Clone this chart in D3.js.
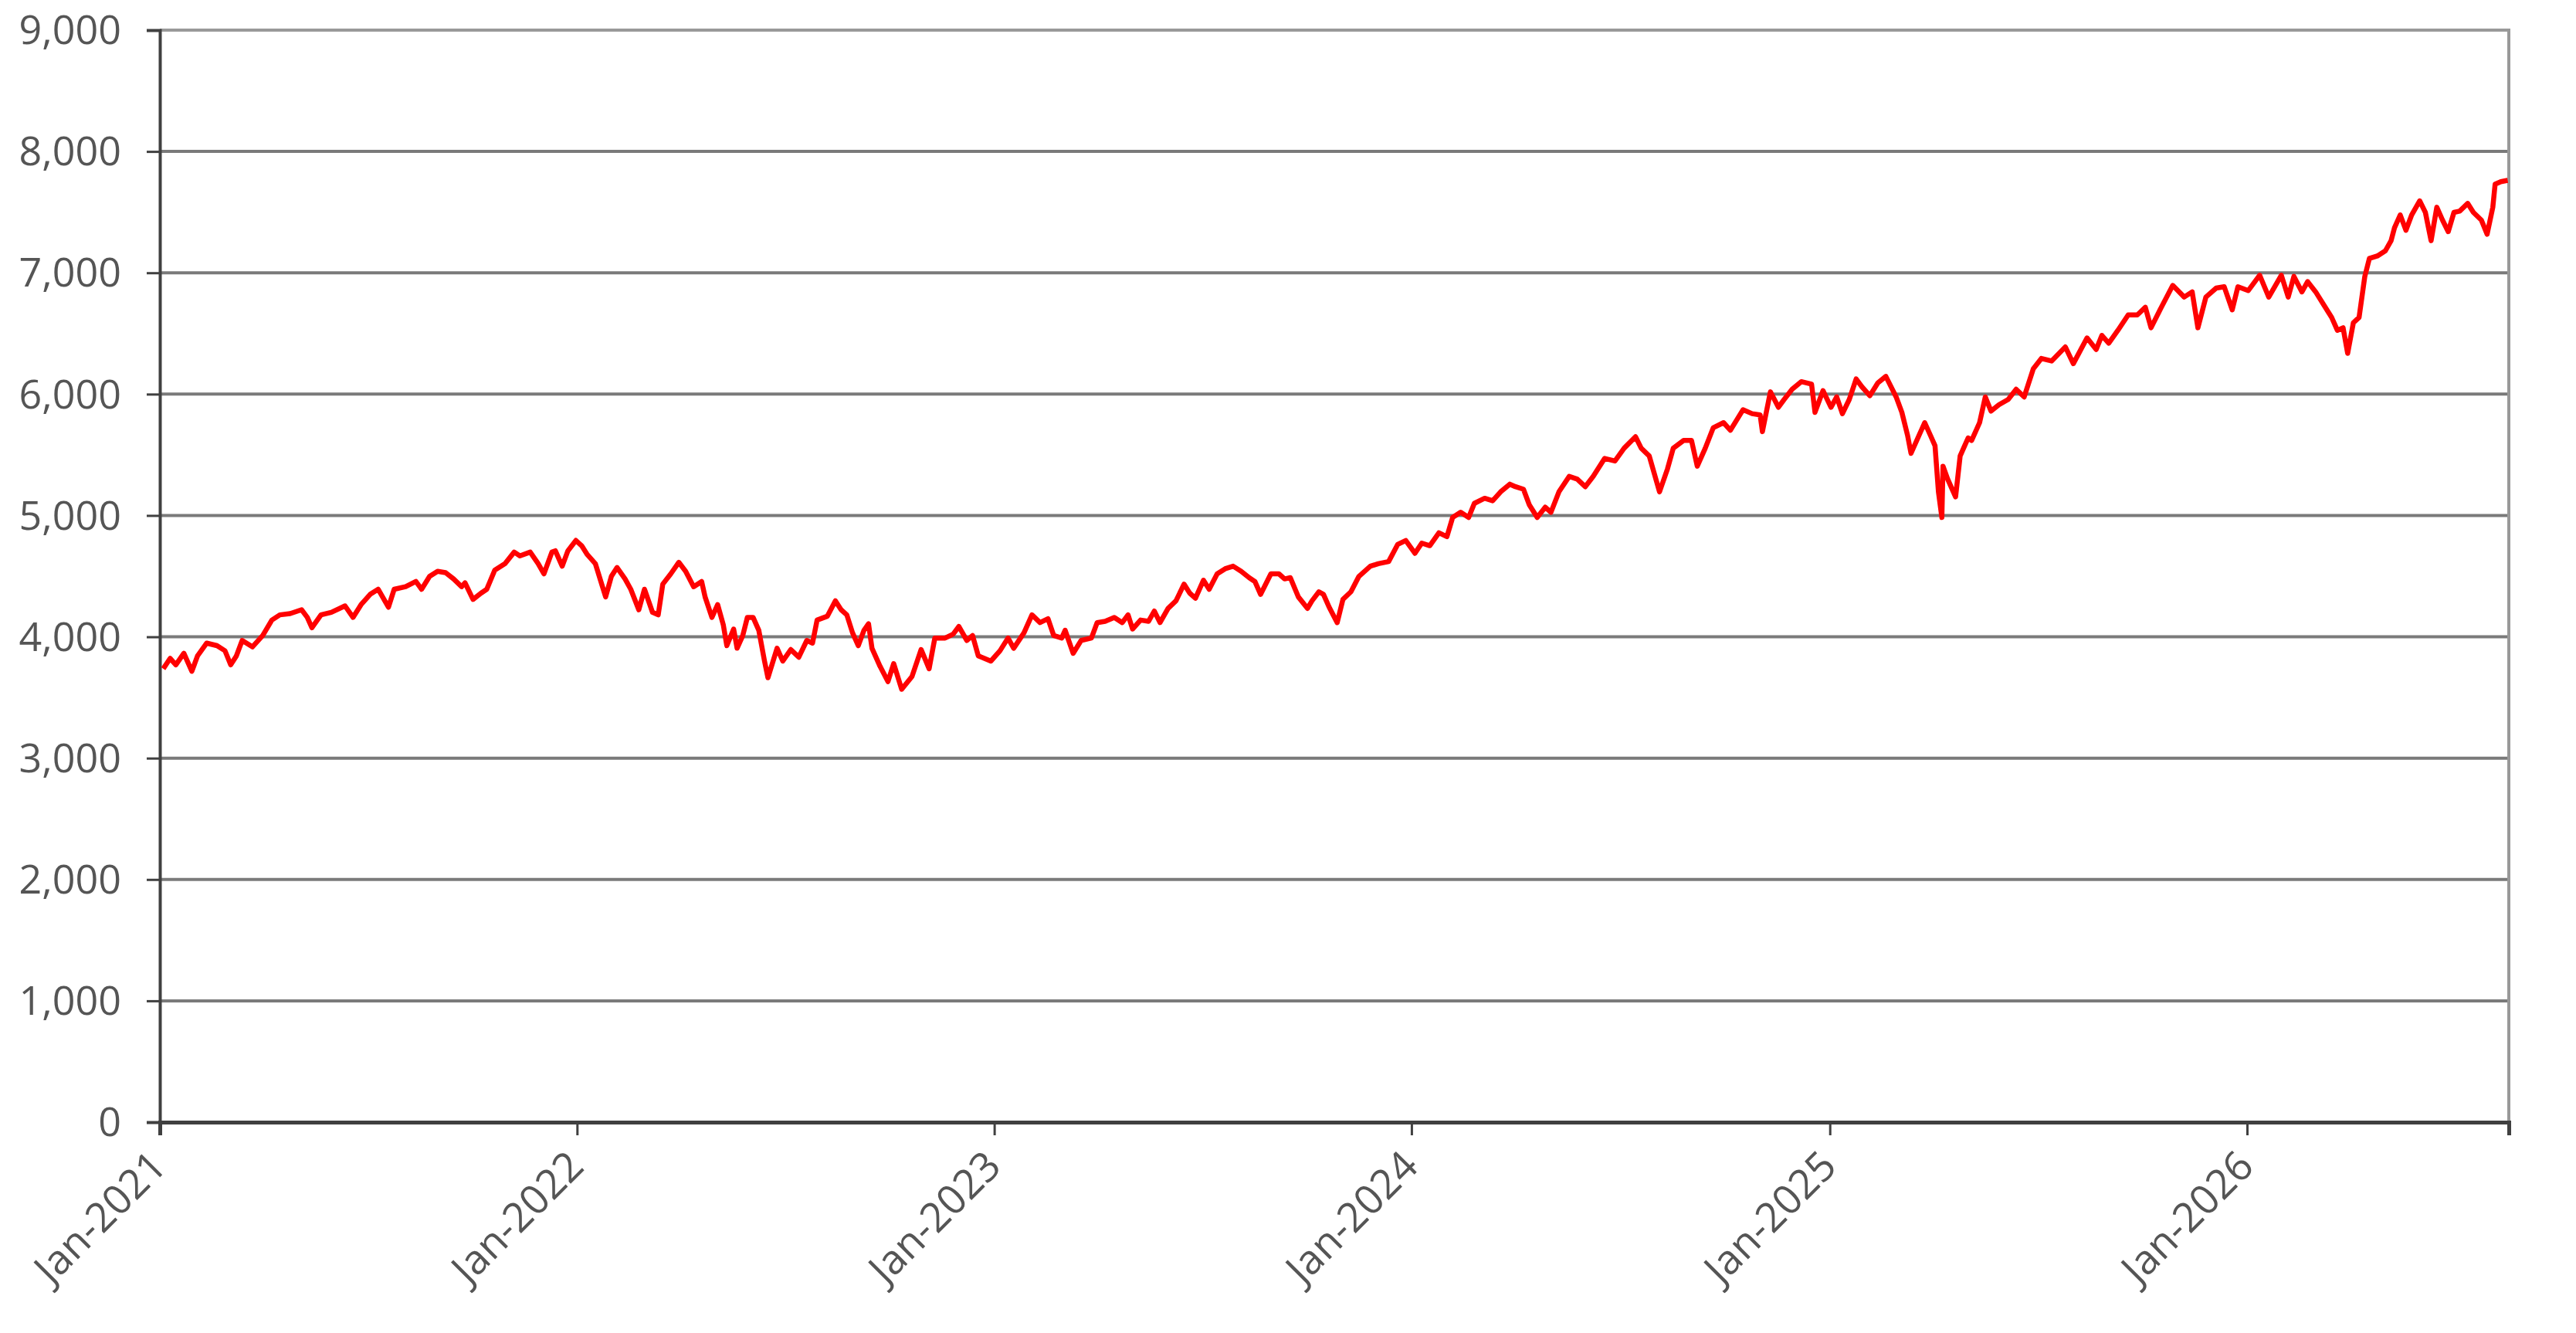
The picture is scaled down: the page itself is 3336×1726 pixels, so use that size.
<!DOCTYPE html>
<html>
<head>
<meta charset="utf-8">
<script src="https://cdn.jsdelivr.net/npm/d3@7"></script>
<style>
  html, body { margin: 0; padding: 0; background: #fff; }
  svg { display: block; }
</style>
</head>
<body>
<div id="chart"></div>
<script>
// index level (roughly weekly points)
var dates = [
  "2021-01-04","2021-01-10","2021-01-15","2021-01-22","2021-01-29","2021-02-03","2021-02-11","2021-02-20",
  "2021-02-27","2021-03-04","2021-03-09","2021-03-14","2021-03-23","2021-04-01","2021-04-09","2021-04-16",
  "2021-04-25","2021-05-05","2021-05-10","2021-05-14","2021-05-22","2021-05-31","2021-06-12","2021-06-19",
  "2021-06-26","2021-07-04","2021-07-11","2021-07-20","2021-07-25","2021-08-04","2021-08-13","2021-08-18",
  "2021-08-25","2021-09-01","2021-09-08","2021-09-15","2021-09-22","2021-09-25","2021-10-02","2021-10-09",
  "2021-10-14","2021-10-21","2021-10-30","2021-11-07","2021-11-12","2021-11-21","2021-11-28","2021-12-03",
  "2021-12-10","2021-12-13","2021-12-19","2021-12-24","2021-12-31",
  "2022-01-05","2022-01-10","2022-01-17","2022-01-26","2022-01-31","2022-02-05","2022-02-12","2022-02-17",
  "2022-02-24","2022-03-01","2022-03-08","2022-03-13","2022-03-17","2022-03-24","2022-03-31","2022-04-06",
  "2022-04-13","2022-04-20","2022-04-23","2022-04-29","2022-05-04","2022-05-09","2022-05-12","2022-05-18",
  "2022-05-21","2022-05-26","2022-05-30","2022-06-04","2022-06-09","2022-06-14","2022-06-17","2022-06-25",
  "2022-06-30","2022-07-07","2022-07-14","2022-07-21","2022-07-26","2022-07-30","2022-08-08","2022-08-15",
  "2022-08-20","2022-08-25","2022-08-30","2022-09-04","2022-09-09","2022-09-13","2022-09-16","2022-09-23",
  "2022-09-30","2022-10-05","2022-10-12","2022-10-21","2022-10-29","2022-11-05","2022-11-10","2022-11-19",
  "2022-11-26","2022-12-01","2022-12-08","2022-12-13","2022-12-18","2022-12-29",
  "2023-01-06","2023-01-13","2023-01-18","2023-01-27","2023-02-03","2023-02-10","2023-02-17","2023-02-22",
  "2023-03-01","2023-03-04","2023-03-11","2023-03-18","2023-03-27","2023-04-01","2023-04-08","2023-04-16",
  "2023-04-23","2023-04-28","2023-05-02","2023-05-09","2023-05-16","2023-05-21","2023-05-26","2023-06-02",
  "2023-06-09","2023-06-16","2023-06-21","2023-06-26","2023-07-03","2023-07-08","2023-07-15","2023-07-22",
  "2023-07-29","2023-08-05","2023-08-12","2023-08-17","2023-08-22","2023-08-31","2023-09-07","2023-09-12",
  "2023-09-17","2023-09-24","2023-10-02","2023-10-06","2023-10-12","2023-10-16","2023-10-21","2023-10-28",
  "2023-11-02","2023-11-09","2023-11-16","2023-11-26","2023-12-03","2023-12-12","2023-12-20","2023-12-27",
  "2024-01-04","2024-01-10","2024-01-17","2024-01-25","2024-02-01","2024-02-06","2024-02-13","2024-02-20",
  "2024-02-25","2024-03-05","2024-03-12","2024-03-19","2024-03-27","2024-04-01","2024-04-08","2024-04-13",
  "2024-04-20","2024-04-27","2024-05-02","2024-05-09","2024-05-18","2024-05-25","2024-06-01","2024-06-08",
  "2024-06-18","2024-06-27","2024-07-05","2024-07-15","2024-07-20","2024-07-27","2024-08-05","2024-08-12",
  "2024-08-17","2024-08-26","2024-09-02","2024-09-07","2024-09-14","2024-09-21","2024-09-30","2024-10-06",
  "2024-10-17","2024-10-25","2024-11-01","2024-11-03","2024-11-10","2024-11-17","2024-11-22","2024-11-29",
  "2024-12-07","2024-12-16","2024-12-19","2024-12-26",
  "2025-01-02","2025-01-07","2025-01-12","2025-01-18","2025-01-24","2025-01-29","2025-02-05","2025-02-12",
  "2025-02-19","2025-02-28","2025-03-05","2025-03-10","2025-03-13","2025-03-20","2025-03-25","2025-03-30",
  "2025-04-03","2025-04-06","2025-04-09","2025-04-10","2025-04-14","2025-04-21","2025-04-25","2025-05-02",
  "2025-05-05","2025-05-12","2025-05-17","2025-05-22","2025-05-29","2025-06-06","2025-06-13","2025-06-20",
  "2025-06-28","2025-07-05","2025-07-14","2025-07-26","2025-08-02","2025-08-14","2025-08-22","2025-08-27",
  "2025-09-02","2025-09-10","2025-09-19","2025-09-27","2025-10-04","2025-10-09","2025-10-18","2025-10-28",
  "2025-11-07","2025-11-14","2025-11-19","2025-11-26","2025-12-05","2025-12-12","2025-12-19","2025-12-24",
  "2026-01-02","2026-01-12","2026-01-20","2026-01-31","2026-02-06","2026-02-11","2026-02-18","2026-02-23",
  "2026-03-02","2026-03-09","2026-03-16","2026-03-21","2026-03-26","2026-03-30","2026-04-04","2026-04-09",
  "2026-04-14","2026-04-18","2026-04-25","2026-05-02","2026-05-07","2026-05-10","2026-05-15","2026-05-20",
  "2026-05-25","2026-06-01","2026-06-06","2026-06-11","2026-06-16","2026-06-21","2026-06-26","2026-07-01",
  "2026-07-06","2026-07-13","2026-07-18","2026-07-25","2026-07-30","2026-08-04","2026-08-06","2026-08-11","2026-08-17"
];

var values = [
  3737,3822,3769,3864,3716,3843,3948,3927,
  3885,3769,3843,3970,3917,4011,4138,4181,
  4191,4223,4160,4075,4181,4202,4255,4160,
  4265,4350,4392,4244,4392,4413,4456,4392,
  4498,4540,4529,4477,4413,4445,4308,4360,
  4392,4550,4603,4698,4667,4698,4603,4519,
  4698,4709,4582,4709,4794,
  4751,4677,4603,4329,4498,4571,4477,4392,
  4223,4392,4202,4181,4434,4519,4614,4540,
  4413,4456,4329,4160,4265,4096,3927,4064,
  3906,4011,4160,4160,4054,3800,3663,3906,
  3800,3895,3832,3970,3948,4138,4170,4297,
  4223,4181,4033,3927,4054,4107,3906,3758,
  3631,3779,3568,3673,3895,3737,3990,3990,
  4022,4085,3970,4011,3843,3800,
  3885,3990,3906,4033,4181,4117,4149,4011,
  3990,4054,3864,3970,3990,4117,4128,4160,
  4117,4181,4064,4138,4128,4212,4117,4234,
  4297,4434,4360,4318,4466,4392,4519,4561,
  4582,4540,4487,4456,4350,4519,4519,4477,
  4487,4329,4234,4297,4371,4350,4244,4117,
  4308,4371,4498,4582,4603,4620,4762,4794,
  4688,4772,4751,4857,4825,4984,5026,4984,
  5100,5142,5121,5195,5258,5237,5216,5089,
  4984,5068,5026,5195,5322,5300,5237,5322,
  5470,5449,5554,5649,5554,5491,5195,5385,
  5554,5618,5618,5406,5554,5723,5765,5702,
  5871,5839,5829,5691,6019,5892,5956,6040,
  6103,6082,5850,6029,
  5892,5977,5839,5956,6125,6061,5987,6093,
  6146,5977,5850,5660,5512,5660,5765,5660,
  5575,5195,4984,5406,5301,5153,5491,5639,
  5618,5765,5977,5860,5913,5956,6040,5977,
  6209,6294,6273,6389,6251,6463,6368,6484,
  6420,6526,6653,6653,6716,6547,6716,6896,
  6800,6843,6547,6800,6874,6885,6695,6885,
  6853,6980,6800,6980,6800,6970,6843,6927,
  6843,6737,6632,6526,6547,6336,6589,6632,
  6970,7118,7139,7181,7265,7371,7477,7350,
  7477,7593,7498,7265,7540,7434,7339,7498,
  7508,7572,7498,7434,7318,7540,7730,7751,7762
];

var yTicks = [0, 1000, 2000, 3000, 4000, 5000, 6000, 7000, 8000, 9000];
var xStart = "2021-01-01", xEnd = "2026-08-18";

var W = 3336, H = 1726;
var margin = {top: 39, right: 87, bottom: 273, left: 207},
    width = W - margin.left - margin.right,
    height = H - margin.top - margin.bottom;

var parse = d3.timeParse("%Y-%m-%d");
var data = dates.map(function(d, i) { return {date: parse(d), value: values[i]}; });

var svg = d3.select("#chart")
  .append("svg")
    .attr("width", W)
    .attr("height", H)
    .style("background", "#fff");

var g = svg.append("g")
    .attr("transform", "translate(" + margin.left + "," + margin.top + ")");

var x = d3.scaleTime()
    .domain([parse(xStart), parse(xEnd)])
    .range([0, width]);

var y = d3.scaleLinear()
    .domain([0, 9000])
    .range([height, 0]);

// gridlines
g.append("g")
  .selectAll("line")
  .data(yTicks.slice(1, -1))
  .enter().append("line")
    .attr("x1", 0)
    .attr("x2", width)
    .attr("y1", function(d) { return y(d); })
    .attr("y2", function(d) { return y(d); })
    .attr("stroke", "#7a7a7a")
    .attr("stroke-width", 4);

// top and right frame
g.append("path")
    .attr("d", "M0," + y(9000) + "H" + width + "V" + height)
    .attr("fill", "none")
    .attr("stroke", "#999")
    .attr("stroke-width", 4);

// Y axis
var yAxis = g.append("g")
    .call(d3.axisLeft(y)
      .tickValues(yTicks)
      .tickSize(17)
      .tickPadding(33)
      .tickFormat(d3.format(",")));
yAxis.select(".domain").attr("stroke", "#404040").attr("stroke-width", 4);
yAxis.selectAll(".tick line").attr("stroke", "#404040").attr("stroke-width", 3);
yAxis.selectAll("text")
    .attr("fill", "#555")
    .attr("dy", "0.34em")
    .style("font-family", "'Open Sans', 'Noto Sans', sans-serif")
    .style("font-size", "52px");

// X axis
var xAxis = g.append("g")
    .attr("transform", "translate(0," + height + ")")
    .call(d3.axisBottom(x)
      .ticks(d3.timeYear.every(1))
      .tickSize(17)
      .tickFormat(d3.timeFormat("%b-%Y")));
xAxis.select(".domain").attr("stroke", "#404040").attr("stroke-width", 5);
xAxis.selectAll(".tick line").attr("stroke", "#404040").attr("stroke-width", 3);
xAxis.selectAll("text")
    .attr("fill", "#555")
    .attr("y", 0)
    .attr("dy", 0)
    .attr("text-anchor", "end")
    .attr("transform", "translate(11,60) rotate(-45)")
    .style("font-family", "'Open Sans', 'Noto Sans', sans-serif")
    .style("font-size", "53px");

// the line
g.append("clipPath")
    .attr("id", "plot")
  .append("rect")
    .attr("width", width)
    .attr("height", height);

g.append("path")
    .datum(data)
    .attr("clip-path", "url(#plot)")
    .attr("fill", "none")
    .attr("stroke", "#ff0000")
    .attr("stroke-width", 6.5)
    .attr("stroke-linejoin", "round")
    .attr("d", d3.line()
      .x(function(d) { return x(d.date); })
      .y(function(d) { return y(d.value); }));
</script>
</body>
</html>
